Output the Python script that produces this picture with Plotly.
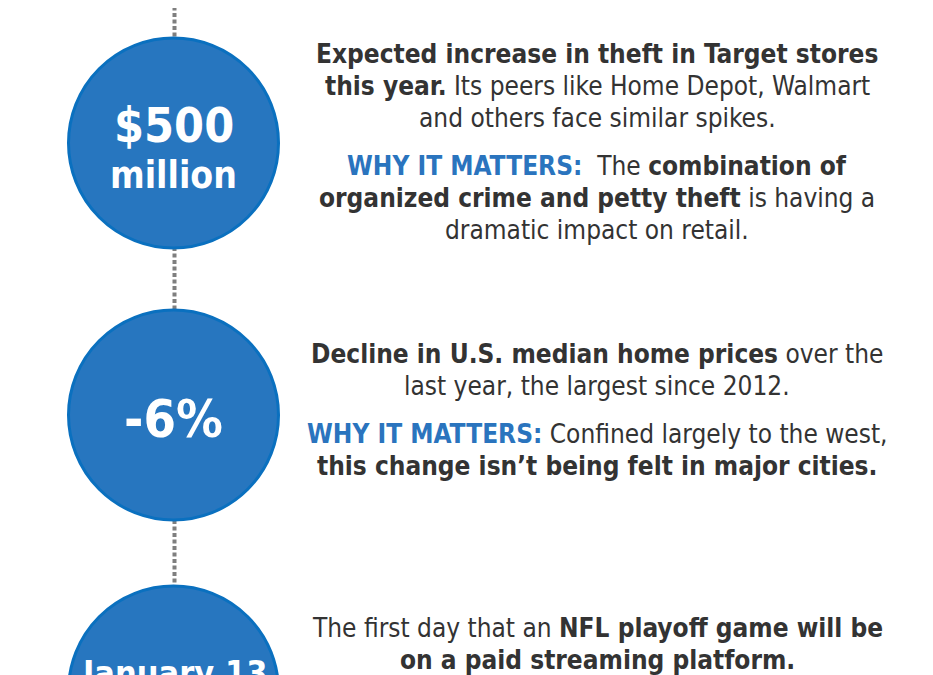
import plotly.graph_objects as go

# ---- data ----
stat_top = ["$500", "-6%", "January 13"]
stat_bottom = ["million", "", ""]
block_lines = [
    ["<b>Expected increase in theft in Target stores</b>",
     "<b>this year.</b> Its peers like Home Depot, Walmart",
     "and others face similar spikes.",
     None,
     "<span style='color:#2A74BE'><b>WHY IT MATTERS:</b></span>  The <b>combination of</b>",
     "<b>organized crime and petty theft</b> is having a",
     "dramatic impact on retail."],
    ["<b>Decline in U.S. median home prices</b> over the",
     "last year, the largest since 2012.",
     None,
     "<span style='color:#2A74BE'><b>WHY IT MATTERS:</b></span> Confined largely to the west,",
     "<b>this change isn’t being felt in major cities.</b>"],
    ["The first day that an <b>NFL playoff game will be</b>",
     "<b>on a paid streaming platform.</b>"],
]

# ---- layout constants ----
W, H = 933, 675
OFF = 8  # page body margin
cx = 173.5
cy = [143, 415, 691]
R = 105
text_cx = 597
block_top = [54, 354, 628]
line_h = 32
gap_h = 16
FONT = "DejaVu Sans Condensed, Tahoma, DejaVu Sans, sans-serif"
TXT = "#333333"

fig = go.Figure()

# dotted connector
fig.add_trace(go.Scatter(x=[174.5, 174.5], y=[0, 690], mode="lines",
                         line=dict(color="#7F7F7F", width=4, dash="4px,2.5px"),
                         hoverinfo="skip", showlegend=False))
# circles
fig.add_trace(go.Scatter(x=[cx] * 3, y=cy, mode="markers",
                         marker=dict(size=2 * R, color="#2776BF",
                                     line=dict(color="#0A70BF", width=3)),
                         hoverinfo="skip", showlegend=False))

annotations = []
# circle labels
annotations.append(dict(x=cx, y=125, text="<b>" + stat_top[0] + "</b>",
                        font=dict(size=48, color="white", family=FONT)))
annotations.append(dict(x=cx, y=175, text="<b>" + stat_bottom[0] + "</b>",
                        font=dict(size=37, color="white", family=FONT)))
annotations.append(dict(x=cx, y=419, text="<b>" + stat_top[1] + "</b>",
                        font=dict(size=52, color="white", family=FONT)))
annotations.append(dict(x=cx, y=673, text="<b>" + stat_top[2] + "</b>",
                        font=dict(size=34, color="white", family=FONT)))

for b, lines in enumerate(block_lines):
    y = block_top[b]
    for ln in lines:
        if ln is None:
            y += gap_h
            continue
        annotations.append(dict(x=text_cx, y=y, text=ln,
                                font=dict(size=26, color=TXT, family=FONT)))
        y += line_h

for a in annotations:
    a.update(xref="x", yref="y", showarrow=False, xanchor="center", yanchor="middle")

fig.update_layout(
    width=W, height=H,
    margin=dict(l=0, r=0, t=0, b=0),
    paper_bgcolor="white", plot_bgcolor="white",
    xaxis=dict(range=[OFF, W + OFF], visible=False, fixedrange=True),
    yaxis=dict(range=[H + OFF, OFF], visible=False, fixedrange=True),
    annotations=annotations,
)
fig.write_html("out.html")
